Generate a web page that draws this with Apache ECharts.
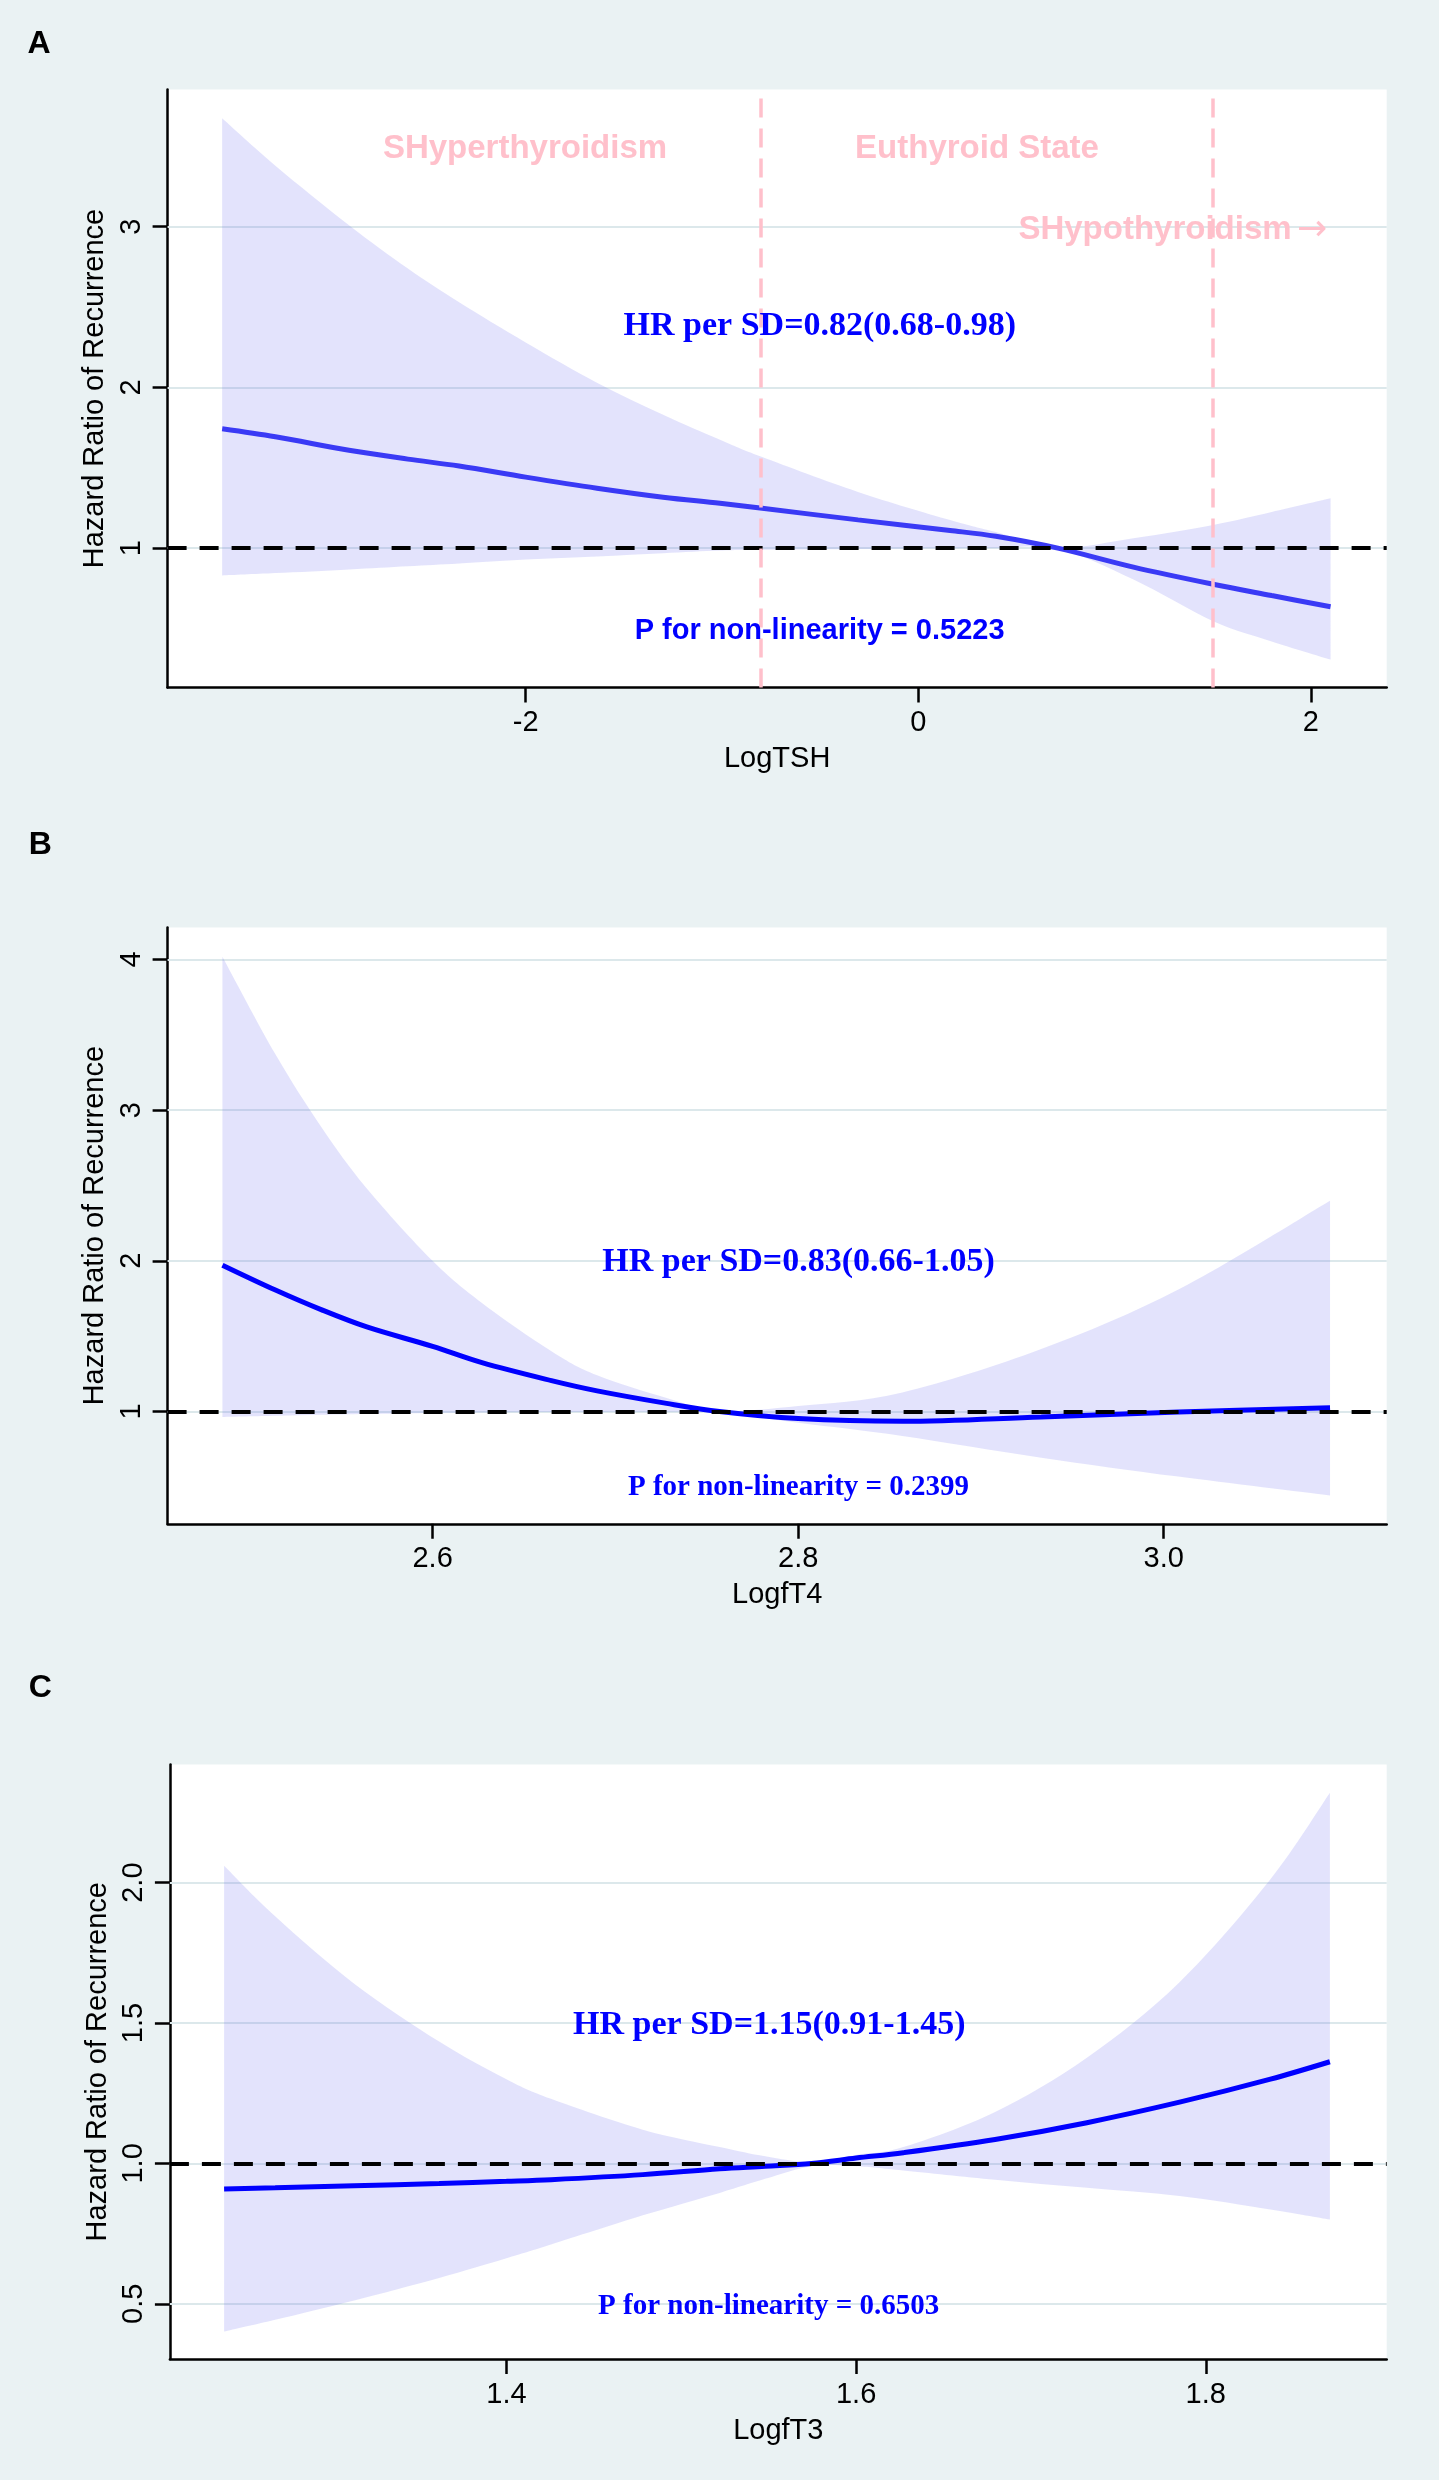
<!DOCTYPE html>
<html>
<head>
<meta charset="utf-8">
<script src="https://cdn.jsdelivr.net/npm/echarts@6/dist/echarts.min.js"></script>
<style>
html,body{margin:0;padding:0;background:#EAF2F3;}
#c{width:1439px;height:2480px;}
</style>
</head>
<body>
<div id="c"></div>
<script>
// ---------- Panel A : LogTSH ----------
const xA   = [-3.546, -3.275, -2.9, -2.6, -2.339, -2.0, -1.637, -1.3, -1.01, -0.795, -0.307, 0.162, 0.395, 0.711, 1.096, 1.508, 1.8, 2.10];
const fitA = [1.743, 1.693, 1.609, 1.554, 1.511, 1.442, 1.373, 1.317, 1.279, 1.248, 1.176, 1.110, 1.074, 1.000, 0.882, 0.774, 0.705, 0.635];
const upA  = [3.675, 3.380, 3.010, 2.740, 2.530, 2.280, 2.030, 1.830, 1.675, 1.567, 1.350, 1.175, 1.100, 1.003, 1.062, 1.146, 1.225, 1.310];
const loA  = [0.830, 0.845, 0.868, 0.888, 0.905, 0.929, 0.948, 0.968, 0.985, 0.990, 0.995, 0.998, 0.999, 0.997, 0.805, 0.542, 0.420, 0.307];
const xTicksA = [-2, 0, 2];
const yTicksA = [1, 2, 3];
const cutoffsA = [-0.799, 1.504];

// ---------- Panel B : LogfT4 ----------
const xB   = [2.485, 2.514, 2.539, 2.564, 2.600, 2.627, 2.665, 2.690, 2.728, 2.757, 2.800, 2.857, 2.933, 3.008, 3.091];
const fitB = [1.971, 1.806, 1.676, 1.561, 1.432, 1.324, 1.205, 1.137, 1.054, 1.000, 0.953, 0.935, 0.964, 0.996, 1.025];
const upB  = [4.018, 3.370, 2.890, 2.480, 2.000, 1.720, 1.400, 1.240, 1.090, 1.005, 1.036, 1.126, 1.414, 1.809, 2.399];
const loB  = [0.964, 0.972, 0.978, 0.983, 0.990, 0.993, 0.996, 0.997, 0.998, 0.995, 0.925, 0.838, 0.694, 0.568, 0.442];
const xTicksB = [2.6, 2.8, 3.0];
const yTicksB = [1, 2, 3, 4];

// ---------- Panel C : LogfT3 ----------
const xC   = [1.2385, 1.2677, 1.3129, 1.3615, 1.400, 1.4255, 1.478, 1.522, 1.548, 1.5745, 1.600, 1.627, 1.6795, 1.732, 1.785, 1.837, 1.871];
const fitC = [0.909, 0.913, 0.920, 0.928, 0.936, 0.942, 0.960, 0.981, 0.990, 1.000, 1.019, 1.038, 1.085, 1.145, 1.218, 1.300, 1.362];
const upC  = [2.060, 1.880, 1.640, 1.434, 1.300, 1.230, 1.120, 1.058, 1.025, 1.004, 1.030, 1.058, 1.183, 1.376, 1.645, 2.012, 2.320];
const loC  = [0.401, 0.443, 0.512, 0.592, 0.662, 0.711, 0.815, 0.895, 0.945, 0.990, 0.990, 0.975, 0.942, 0.913, 0.884, 0.836, 0.800];
const xTicksC = [1.4, 1.6, 1.8];
const yTicksC = [0.5, 1.0, 1.5, 2.0];

const refHR = 1;

const SANS = '"Liberation Sans", Arial, Helvetica, sans-serif';
const SERIF = '"Liberation Serif", "Times New Roman", Times, serif';

const panels = [
  {x:xA, fit:fitA, up:upA, lo:loA, xt:xTicksA, yt:yTicksA, xmin:-3.824, xmax:2.386, ymin:0.133, ymax:3.854,
   name:'LogTSH', xfmt:v=>String(v), yfmt:v=>String(v), line:'#3a3af5',
   grid:{left:167.6, top:89.5, width:1219.1, height:598}},
  {x:xB, fit:fitB, up:upB, lo:loB, xt:xTicksB, yt:yTicksB, xmin:2.455, xmax:3.122, ymin:0.255, ymax:4.212,
   name:'LogfT4', xfmt:v=>v.toFixed(1), yfmt:v=>String(v), line:'#0000ff',
   grid:{left:167.6, top:927.4, width:1219.1, height:596.4}},
  {x:xC, fit:fitC, up:upC, lo:loC, xt:xTicksC, yt:yTicksC, xmin:1.2075, xmax:1.9035, ymin:0.303, ymax:2.421,
   name:'LogfT3', xfmt:v=>v.toFixed(1), yfmt:v=>v.toFixed(1), line:'#0000ff',
   grid:{left:169.9, top:1764.4, width:1216.8, height:594.7}}
];

// Catmull-Rom style smooth path segment through screen points (rendering only)
function smoothSeg(pts, start) {
  let d = start ? 'M' + pts[0][0] + ',' + pts[0][1] : 'L' + pts[0][0] + ',' + pts[0][1];
  const n = pts.length;
  for (let i = 0; i < n - 1; i++) {
    const p0 = pts[Math.max(i - 1, 0)], p1 = pts[i], p2 = pts[i + 1], p3 = pts[Math.min(i + 2, n - 1)];
    const c1x = p1[0] + (p2[0] - p0[0]) / 6, c1y = p1[1] + (p2[1] - p0[1]) / 6;
    const c2x = p2[0] - (p3[0] - p1[0]) / 6, c2y = p2[1] - (p3[1] - p1[1]) / 6;
    d += 'C' + c1x + ',' + c1y + ' ' + c2x + ',' + c2y + ' ' + p2[0] + ',' + p2[1];
  }
  return d;
}

const BAND = 'rgba(100,100,240,0.18)';
const grid = [], xAxis = [], yAxis = [], series = [];
panels.forEach((p, i) => {
  grid.push(Object.assign({show:true, backgroundColor:'#ffffff', borderWidth:0}, p.grid));
  xAxis.push({
    gridIndex:i, type:'value', min:p.xmin, max:p.xmax,
    name:p.name, nameLocation:'middle', nameGap:57,
    nameTextStyle:{fontSize:29, color:'#000', fontFamily:SANS},
    axisLine:{show:true, onZero:false, lineStyle:{color:'#000', width:2.5}},
    axisTick:{show:true, customValues:p.xt, length:15, lineStyle:{color:'#000', width:2.5}},
    axisLabel:{show:true, customValues:p.xt, fontSize:29, color:'#000', fontFamily:SANS, margin:21, formatter:p.xfmt},
    splitLine:{show:false}
  });
  yAxis.push({
    gridIndex:i, type:'value', min:p.ymin, max:p.ymax,
    name:'Hazard Ratio of Recurrence', nameLocation:'middle', nameGap:55, nameRotate:90,
    nameTextStyle:{fontSize:29, color:'#000', fontFamily:SANS},
    axisLine:{show:true, onZero:false, lineStyle:{color:'#000', width:2.5}},
    axisTick:{show:true, customValues:p.yt, length:15, lineStyle:{color:'#000', width:2.5}},
    axisLabel:{show:true, customValues:p.yt, rotate:90, fontSize:29, color:'#000', fontFamily:SANS, margin:21, formatter:p.yfmt},
    splitLine:{show:false}
  });
  // gridlines
  series.push({
    type:'line', xAxisIndex:i, yAxisIndex:i, z:1, silent:true, symbol:'none',
    data:[[p.x[0], p.fit[0]]], lineStyle:{width:0},
    markLine:{z:1, silent:true, symbol:['none','none'], label:{show:false}, animation:false,
      lineStyle:{color:'#DCE8EB', width:2, type:'solid'},
      data:p.yt.map(v => ({yAxis:v}))}
  });
  // confidence band
  series.push({
    type:'custom', xAxisIndex:i, yAxisIndex:i, z:2, silent:true,
    data:[[p.x[0], p.lo[0]]],
    renderItem:(params, api) => {
      const upPts = p.x.map((x, k) => api.coord([x, p.up[k]]));
      const loPts = p.x.map((x, k) => api.coord([x, p.lo[k]])).reverse();
      const d = smoothSeg(upPts, true) + smoothSeg(loPts, false) + 'Z';
      return {type:'path', shape:{pathData:d}, style:{fill:BAND, stroke:null}};
    }
  });
  // fitted HR curve
  series.push({
    type:'line', xAxisIndex:i, yAxisIndex:i, z:3, silent:true, symbol:'none', showSymbol:false,
    smooth:0.35, data:p.x.map((x, k) => [x, p.fit[k]]),
    lineStyle:{color:p.line, width:5}
  });
  // reference HR = 1
  series.push({
    type:'line', xAxisIndex:i, yAxisIndex:i, z:6, silent:true, symbol:'none',
    data:[[p.x[0], p.fit[0]]], lineStyle:{width:0},
    markLine:{z:6, silent:true, symbol:['none','none'], label:{show:false}, animation:false,
      lineStyle:{color:'#000', width:4, type:[19,13]},
      data:[{yAxis:refHR}]}
  });
});
// TSH cut-offs (panel A)
series.push({
  type:'line', xAxisIndex:0, yAxisIndex:0, z:7, silent:true, symbol:'none',
  data:[[xA[0], fitA[0]]], lineStyle:{width:0},
  markLine:{z:7, silent:true, symbol:['none','none'], label:{show:false}, animation:false,
    lineStyle:{color:'#FFC0CB', width:3.5, type:[19,11]},
    data:cutoffsA.map(v => ({xAxis:v}))}
});

function txt(t, x, y, font, fill, align) {
  return {type:'text', x:x, y:y, silent:true, z:10,
    style:{text:t, font:font, fill:fill, align:align || 'center', verticalAlign:'middle',
           textAlign:align || 'center', textVerticalAlign:'middle'}};
}
const BLUE = '#0000ff', PINK = '#FFC0CB';
const graphic = [
  txt('A', 39, 44, 'bold 32px ' + SANS, '#000'),
  txt('B', 40.4, 845, 'bold 32px ' + SANS, '#000'),
  txt('C', 40.4, 1688.5, 'bold 32px ' + SANS, '#000'),
  txt('SHyperthyroidism', 525, 149.2, 'bold 33px ' + SANS, PINK),
  txt('Euthyroid State', 977, 149.2, 'bold 33px ' + SANS, PINK),
  txt('SHypothyroidism', 1018.4, 229.8, 'bold 33px ' + SANS, PINK, 'left'),
  txt('\u2192', 1312, 231, '36px "DejaVu Sans", sans-serif', PINK),
  txt('HR per SD=0.82(0.68-0.98)', 819.8, 325.8, 'bold 34px ' + SERIF, BLUE),
  txt('P for non-linearity = 0.5223', 819.6, 630.8, 'bold 29px ' + SANS, BLUE),
  txt('HR per SD=0.83(0.66-1.05)', 798.5, 1262.5, 'bold 34px ' + SERIF, BLUE),
  txt('P for non-linearity = 0.2399', 798.5, 1487.4, 'bold 29px ' + SERIF, BLUE),
  txt('HR per SD=1.15(0.91-1.45)', 769.3, 2025.7, 'bold 34px ' + SERIF, BLUE),
  txt('P for non-linearity = 0.6503', 768.6, 2306.5, 'bold 29px ' + SERIF, BLUE)
];

const chart = echarts.init(document.getElementById('c'), null, {renderer:'canvas', width:1439, height:2480});
chart.setOption({
  animation:false,
  backgroundColor:'#EAF2F3',
  grid:grid, xAxis:xAxis, yAxis:yAxis, series:series, graphic:graphic
});
</script>
</body>
</html>
